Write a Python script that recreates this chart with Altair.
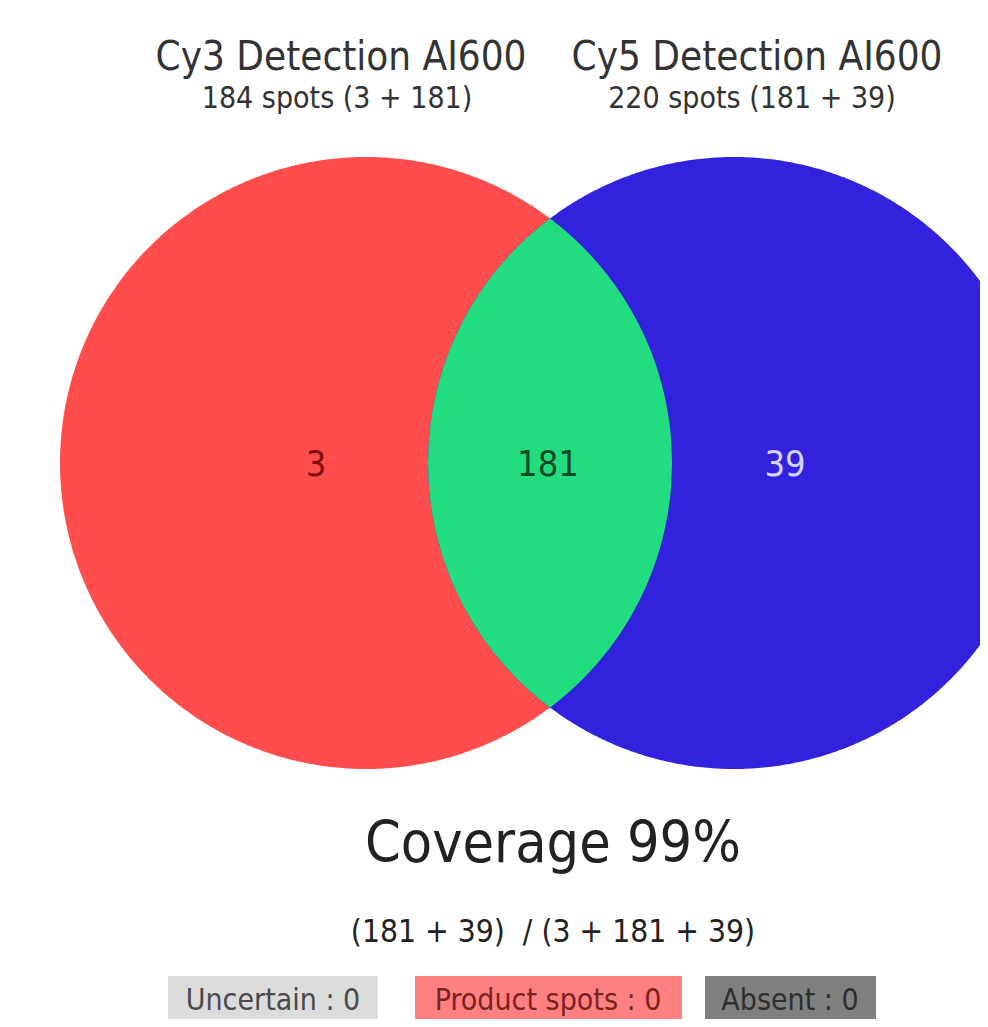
import altair as alt
import numpy as np
import pandas as pd

# ---- data ----
set_names = ["Cy3 Detection AI600", "Cy5 Detection AI600"]
set_totals = [184, 220]
region_names = ["Cy3 only", "Both", "Cy5 only"]
region_counts = [3, 181, 39]
coverage_pct = 99
status_labels = ["Uncertain", "Product spots", "Absent"]
status_counts = [0, 0, 0]

# ---- styles / layout ----
region_colors = ["#FF4D4D", "#22DD80", "#3322DD"]
region_text_colors = ["#7E1010", "#0B4A24", "#D4D4FF"]
status_fill = ["#DCDCDC", "#FF8080", "#808080"]
status_text = ["#4A4A4A", "#7A2222", "#2E2E2E"]
FONT = "DejaVu Sans Condensed, DejaVu Sans"

CX = [366.0, 734.0]
CY = 463.0
R = 306.0

W, H = 972, 1011
xs = alt.Scale(domain=[8, 980], range=[0, W])
ys = alt.Scale(domain=[8, 1019], range=[0, H])

# circle outlines as areas between two curves
t = np.linspace(0, np.pi, 361)


def circle_df(cx):
    return pd.DataFrame({
        "x": cx - R * np.cos(t),
        "y": CY - R * np.sin(t),
        "y2": CY + R * np.sin(t),
    })


# lens: for each x between the two inner edges, the vertical extent of the overlap
lx = np.linspace(CX[1] - R, CX[0] + R, 361)
half = np.minimum(
    np.sqrt(np.clip(R ** 2 - (lx - CX[0]) ** 2, 0, None)),
    np.sqrt(np.clip(R ** 2 - (lx - CX[1]) ** 2, 0, None)),
)
lens = pd.DataFrame({"x": lx, "y": CY - half, "y2": CY + half})


def area_layer(df, color):
    return alt.Chart(df).mark_area(clip=True, color=color, opacity=1).encode(
        x=alt.X("x:Q", scale=xs, axis=None),
        y=alt.Y("y:Q", scale=ys, axis=None, stack=None),
        y2="y2:Q",
    )


left = area_layer(circle_df(CX[0]), region_colors[0])
right = area_layer(circle_df(CX[1]), region_colors[2])
mid = area_layer(lens, region_colors[1])

# region count labels
reg_df = pd.DataFrame({
    "x": [316, 548, 785],
    "y": [465, 465, 465],
    "label": [str(v) for v in region_counts],
    "region": region_names,
})
reg_text = alt.Chart(reg_df).mark_text(font=FONT, fontSize=36, align="center", baseline="middle").encode(
    x=alt.X("x:Q", scale=xs, axis=None),
    y=alt.Y("y:Q", scale=ys, axis=None),
    text="label:N",
    color=alt.Color("region:N", scale=alt.Scale(domain=region_names, range=region_text_colors), legend=None),
)

# titles
title_df = pd.DataFrame({"x": [341, 757], "y": [58, 58], "label": set_names})
titles = alt.Chart(title_df).mark_text(font=FONT, fontSize=40, color="#333333", align="center", baseline="middle").encode(
    x=alt.X("x:Q", scale=xs, axis=None), y=alt.Y("y:Q", scale=ys, axis=None), text="label:N")

sub_labels = [
    f"{set_totals[0]} spots ({region_counts[0]} + {region_counts[1]})",
    f"{set_totals[1]} spots ({region_counts[1]} + {region_counts[2]})",
]
sub_df = pd.DataFrame({"x": [337, 752], "y": [99, 99], "label": sub_labels})
subs = alt.Chart(sub_df).mark_text(font=FONT, fontSize=30, color="#333333", align="center", baseline="middle").encode(
    x=alt.X("x:Q", scale=xs, axis=None), y=alt.Y("y:Q", scale=ys, axis=None), text="label:N")

cov_df = pd.DataFrame({
    "x": [553, 553],
    "y": [845, 933],
    "label": [f"Coverage {coverage_pct}%",
              f"({region_counts[1]} + {region_counts[2]})\u00a0 / ({region_counts[0]} + {region_counts[1]} + {region_counts[2]})"],
    "size": [57, 31.5],
})
cov = alt.Chart(cov_df).mark_text(font=FONT, color="#222222", align="center", baseline="middle").encode(
    x=alt.X("x:Q", scale=xs, axis=None), y=alt.Y("y:Q", scale=ys, axis=None), text="label:N",
    size=alt.Size("size:Q", scale=None, legend=None))

# status boxes
box_df = pd.DataFrame({
    "x": [168, 415, 705],
    "x2": [378, 682, 876],
    "y": [976, 976, 976],
    "y2": [1030, 1030, 1030],
    "cx": [273, 548, 790],
    "ty": [1001, 1001, 1001],
    "label": [f"{s} : {c}" for s, c in zip(status_labels, status_counts)],
    "status": status_labels,
})
boxes = alt.Chart(box_df).mark_rect(clip=True).encode(
    x=alt.X("x:Q", scale=xs, axis=None), x2="x2:Q",
    y=alt.Y("y:Q", scale=ys, axis=None), y2="y2:Q",
    color=alt.Color("status:N", scale=alt.Scale(domain=status_labels, range=status_fill), legend=None),
)
box_text = alt.Chart(box_df).mark_text(font=FONT, fontSize=30, align="center", baseline="middle").encode(
    x=alt.X("cx:Q", scale=xs, axis=None), y=alt.Y("ty:Q", scale=ys, axis=None), text="label:N",
    color=alt.Color("status:N", scale=alt.Scale(domain=status_labels, range=status_text), legend=None),
)

chart = alt.layer(left, right, mid, reg_text, titles, subs, cov, boxes, box_text).resolve_scale(
    color="independent"
).properties(
    width=W, height=H, autosize=alt.AutoSizeParams(type="none"), padding=0, background="white"
).configure_view(stroke=None)

chart.save("out.html", embed_options={"renderer": "svg", "actions": False})
